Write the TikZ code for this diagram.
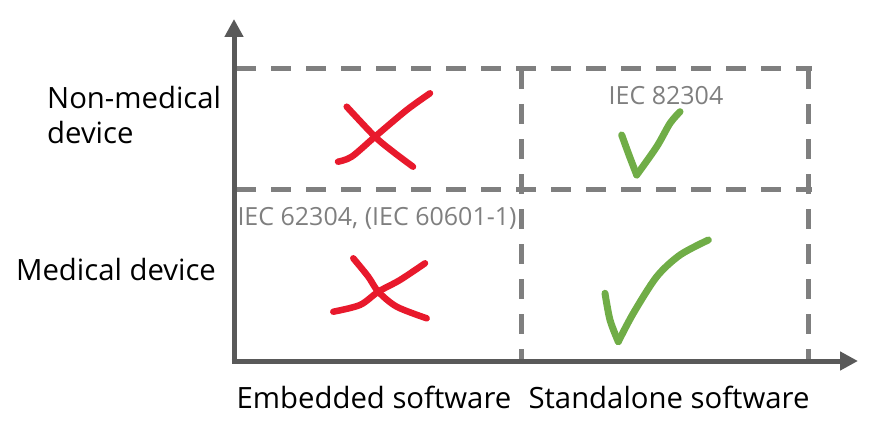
\documentclass[tikz,border=0pt]{standalone}
\usepackage{fontspec}
\setmainfont{Open Sans}
\usetikzlibrary{arrows.meta,positioning}
\definecolor{axisgray}{HTML}{595959}
\definecolor{dashgray}{HTML}{7F7F7F}
\definecolor{crossred}{HTML}{E8192C}
\definecolor{checkgreen}{HTML}{70AD47}

\begin{document}
\begin{tikzpicture}[x=1pt, y=-1pt,
        axis/.style={draw=axisgray, line width=5pt, -{Triangle[length=18pt,width=18pt]}},
        grid/.style={draw=dashgray, line width=5pt, dash pattern=on 20pt off 15pt},
        label/.style={font=\fontsize{29.3}{35}\selectfont, text=black, inner sep=0pt, align=left},
        std/.style={font=\fontsize{25}{30}\selectfont, text=dashgray, inner sep=0pt},
        cross/.style={draw=crossred, line width=6.5pt, line cap=round, line join=round},
        check/.style={draw=checkgreen, line width=7pt, line cap=round, line join=round}
    ]
        \useasboundingbox (0,0) rectangle (877,433);

        % axes
        \coordinate (o) at (234,361);
        \coordinate (ytip) at (234,19);
        \coordinate (xtip) at (858,361);

        % grid corners
        \coordinate (tl) at (236,69);
        \coordinate (tr) at (812,69);
        \coordinate (ml) at (236,189);
        \coordinate (mr) at (812,189);
        \coordinate (tm) at (521,69);
        \coordinate (bm) at (521,359);
        \coordinate (tr2) at (808,69);
        \coordinate (br2) at (808,359);

        \draw[grid] (tl) -- (tr);
        \draw[grid] (ml) -- (mr);
        \draw[grid] (tm) -- (bm);
        \draw[grid] (tr2) -- (br2);

        \draw[axis] (o) -- (ytip);
        \draw[axis] ([xshift=-2.5pt]o) -- (xtip);

        % labels
        \node[label, anchor=west] (nonmed) at (47,115) {Non-medical\\device};
        \node[label] (med) at (116,270) {Medical device};
        \node[label] (emb) at (374,397) {Embedded software};
        \node[label] (sta) at (669,397) {Standalone software};

        \node[std] (iec82) at (666,96) {IEC 82304};
        \node[std] (iec62) at (377,218) {IEC 62304, (IEC 60601-1)};

        % marks
        \draw[cross] plot[smooth] coordinates {(346.7,106.7) (375,136.7) (393,151.7) (413,166.7)};
        \draw[cross] plot[smooth] coordinates {(338,161.7) (351.7,156.7) (375,136.7) (406.7,110) (430,93.3)};

        \draw[cross] plot[smooth] coordinates {(353.3,258.3) (368.3,276.7) (378.3,291.7) (396.7,306.7) (426.7,318.3)};
        \draw[cross] plot[smooth] coordinates {(333.3,311.7) (360,305) (378.3,291.7) (400,280) (425,263.3)};

        \draw[check] plot[smooth] coordinates {(621.7,135) (629,155) (636.7,175)};
        \draw[check] plot[smooth] coordinates {(636.7,175) (656.7,146.7) (670,123.3) (680,111.7)};

        \draw[check] plot[smooth] coordinates {(605,293.3) (610,320) (618.3,341.7)};
        \draw[check] plot[smooth] coordinates {(618.3,341.7) (633.3,313.3) (656.7,276.7) (680,255) (708.3,240)};
    \end{tikzpicture}
\end{document}
